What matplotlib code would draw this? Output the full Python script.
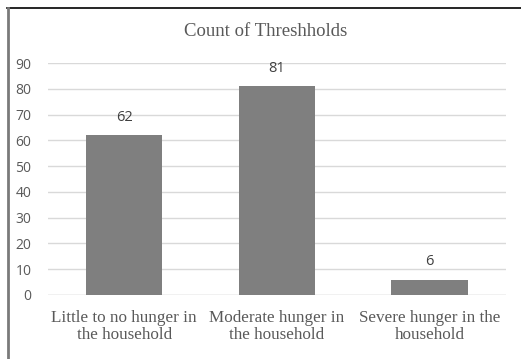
import matplotlib.pyplot as plt
from matplotlib.lines import Line2D

categories = ["Little to no hunger in\nthe household",
              "Moderate hunger in\nthe household",
              "Severe hunger in the\nhousehold"]
counts = [62, 81, 6]
yticks = [0, 10, 20, 30, 40, 50, 60, 70, 80, 90]

fig = plt.figure(figsize=(5.21, 3.59), dpi=100)
ax = fig.add_axes([0.0921, 0.1783, 0.879, 0.6462])

x = range(len(categories))
bars = ax.bar(x, counts, width=0.5, color="#7f7f7f", zorder=3)
for b, v in zip(bars, counts):
    ax.text(b.get_x() + b.get_width() / 2, v + 4, str(v), ha="center", va="bottom",
            fontsize=10.5, color="#404040", family="Open Sans")

ax.set_xlim(-0.5, 2.5)
ax.set_ylim(0, 90)
ax.set_yticks(yticks)
ax.set_yticklabels([str(t) for t in yticks], fontsize=10, color="#595959", family="Open Sans")
ax.set_xticks(list(x))
ax.set_xticklabels(categories, fontsize=12.3, color="#595959", family="Liberation Serif",
                   linespacing=1.1)
ax.tick_params(axis="both", length=0)
ax.tick_params(axis="y", pad=12)
ax.tick_params(axis="x", pad=11)
ax.grid(axis="y", color="#d9d9d9", linewidth=1, zorder=0)
for s in ax.spines.values():
    s.set_visible(False)
ax.axhline(0, color="#d9d9d9", linewidth=1, zorder=2)

fig.text(0.51, 0.913, "Count of Threshholds", ha="center", va="center",
         fontsize=13.5, color="#595959", family="Liberation Serif")

# frame lines along the top and left edges
fig.add_artist(Line2D([0.0134, 1.0], [0.979, 0.979], color="black", linewidth=1.2))
fig.add_artist(Line2D([0.0144, 0.0144], [0.0, 0.979], color="#7a7a7a", linewidth=2))

fig.savefig("out.png", dpi=100)
